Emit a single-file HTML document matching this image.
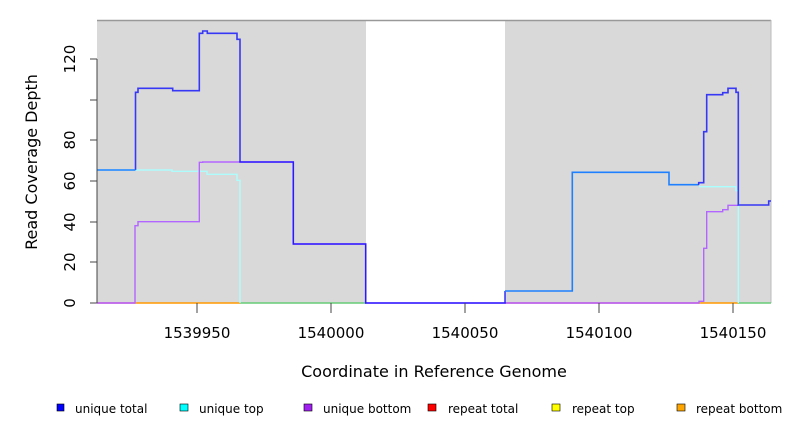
<!DOCTYPE html>
<html><head><meta charset="utf-8"><style>
body{margin:0;background:#fff;width:792px;height:432px;overflow:hidden}
text{font-family:"DejaVu Sans","Liberation Sans",sans-serif}
</style></head><body>
<svg width="792" height="432" viewBox="0 0 792 432" xmlns="http://www.w3.org/2000/svg">
<rect x="97" y="20" width="269" height="283" fill="#d9d9d9"/>
<rect x="505" y="20" width="266" height="283" fill="#d9d9d9"/>
<line x1="97" y1="20.5" x2="771" y2="20.5" stroke="#999" stroke-width="1.5"/>
<line x1="771" y1="20" x2="771" y2="303" stroke="#bbb" stroke-width="1"/>
<g fill="none" stroke-width="1.6">
<polyline stroke="#ff4466" points="97,303 135,303"/>
<polyline stroke="#ff9900" points="135,303 240,303"/>
<polyline stroke="#66cc77" points="240,303 366,303"/>
<polyline stroke="#ff4466" points="505,303 699,303"/>
<polyline stroke="#ff9900" points="699,303 738,303"/>
<polyline stroke="#66cc77" points="738,303 771,303"/>
<polyline stroke="#aaffff" stroke-opacity="0.9" stroke-width="1.4" points="97,170 172,170 172,171.3 207,171.3 207,174.3 237,174.3 237,180.3 240,180.3 240,303"/>
<polyline stroke="#aaffff" stroke-width="1.4" points="699,186.7 736,186.7 736,190.7 738.3,190.7 738.3,303"/>
<polyline stroke="#b266ff" stroke-width="1.4" points="97,303 135,303 135,225.7 138,225.7 138,221.7 199.3,221.7 199.3,162.3 202.7,162.3 202.7,162 293.3,162 293.3,244 365.7,244 365.7,303 505,303"/>
<polyline stroke="#b266ff" stroke-width="1.4" points="505,303 699,303 699,301.3 703.7,301.3 703.7,248.3 706.7,248.3 706.7,211.7 722.7,211.7 722.7,209.7 728,209.7 728,205.3 738.3,205.3"/>
<polyline stroke="#0000ff" stroke-opacity="0.75" points="135.5,170 135.5,92.3 138,92.3 138,88.3 172.7,88.3 172.7,90.7 199.3,90.7 199.3,33.3 202.7,33.3 202.7,31 207.3,31 207.3,33.3 237,33.3 237,39.3 240,39.3 240,162 293.3,162 293.3,244 365.7,244 365.7,303 505,303 505,291"/>
<polyline stroke="#1e80ff" points="97,170 135.5,170"/>
<polyline stroke="#1e80ff" points="505,291 572.3,291 572.3,172.3 669,172.3 669,184.7 698.7,184.7"/>
<polyline stroke="#0000ff" stroke-opacity="0.75" points="698.7,184.7 698.7,182.7 703.7,182.7 703.7,131.7 706.7,131.7 706.7,94.7 722.7,94.7 722.7,92.7 728,92.7 728,88.3 736,88.3 736,92.3 738.3,92.3 738.3,205 768.7,205 768.7,201 771,201"/>
</g>
<g stroke="#444" stroke-width="1">
<line x1="97" y1="59" x2="97" y2="303"/>
<line x1="90" y1="303" x2="97" y2="303"/><line x1="90" y1="262" x2="97" y2="262"/>
<line x1="90" y1="222" x2="97" y2="222"/><line x1="90" y1="181" x2="97" y2="181"/>
<line x1="90" y1="140" x2="97" y2="140"/><line x1="90" y1="100" x2="97" y2="100"/>
<line x1="90" y1="59" x2="97" y2="59"/>
<line x1="197" y1="303" x2="197" y2="313"/><line x1="331" y1="303" x2="331" y2="313"/>
<line x1="465" y1="303" x2="465" y2="313"/><line x1="599" y1="303" x2="599" y2="313"/>
<line x1="733" y1="303" x2="733" y2="313"/>
</g>
<g font-size="15" text-anchor="middle" fill="#000">
<text transform="translate(75,303) rotate(-90)">0</text>
<text transform="translate(75,262) rotate(-90)">20</text>
<text transform="translate(75,222) rotate(-90)">40</text>
<text transform="translate(75,181) rotate(-90)">60</text>
<text transform="translate(75,140) rotate(-90)">80</text>
<text transform="translate(75,59) rotate(-90)">120</text>
<text x="197" y="338">1539950</text><text x="331" y="338">1540000</text>
<text x="465" y="338">1540050</text><text x="599" y="338">1540100</text>
<text x="733" y="338">1540150</text>
<text x="434" y="377" font-size="16">Coordinate in Reference Genome</text>
<text transform="translate(37,162) rotate(-90)" font-size="16">Read Coverage Depth</text>
</g>
<g font-size="12" fill="#000" stroke="#000" stroke-width="0.6">
<rect x="57" y="404" width="7" height="7" fill="#0000ff"/><text x="75" y="413" stroke="none">unique total</text>
<rect x="180" y="404" width="8" height="7" fill="#00ffff"/><text x="199" y="413" stroke="none">unique top</text>
<rect x="304" y="404" width="8" height="7" fill="#a020f0"/><text x="323" y="413" stroke="none">unique bottom</text>
<rect x="428" y="404" width="8" height="7" fill="#ff0000"/><text x="448" y="413" stroke="none">repeat total</text>
<rect x="552" y="404" width="8" height="7" fill="#ffff00"/><text x="572" y="413" stroke="none">repeat top</text>
<rect x="677" y="404" width="8" height="7" fill="#ffa500"/><text x="696" y="413" stroke="none">repeat bottom</text>
</g>
</svg>
</body></html>
